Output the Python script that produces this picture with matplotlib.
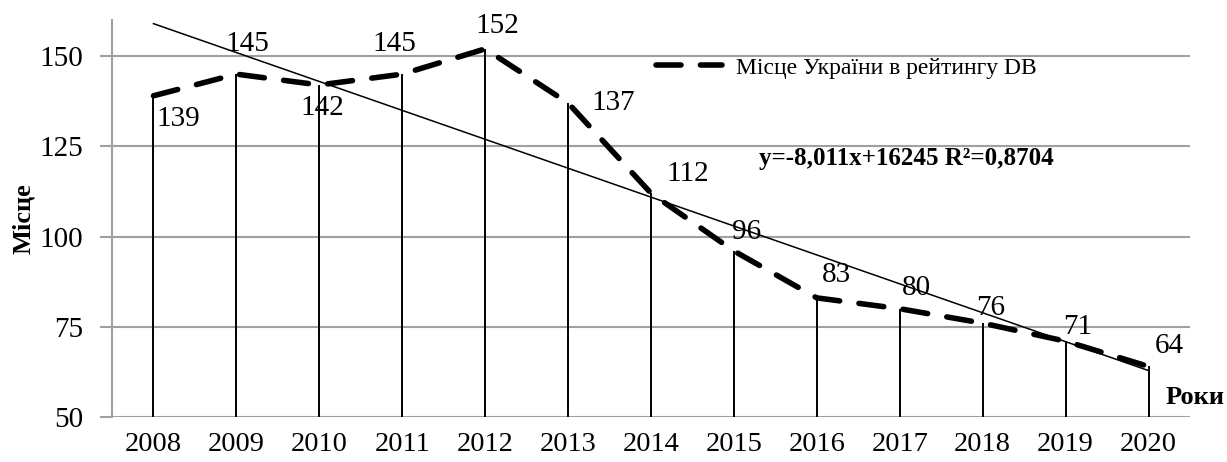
import numpy as np
import matplotlib
matplotlib.use('Agg')
import matplotlib.pyplot as plt

matplotlib.rcParams.update({'font.family': ['Liberation Serif', 'DejaVu Serif'], 'font.size': 21})

# data
years = np.arange(2008, 2021)
places = [139, 145, 142, 145, 152, 137, 112, 96, 83, 80, 76, 71, 64]
# label offsets (pixels) relative to each point
label_dx = [25, 11, 3, -8, 12, 45, 37, 13, 20, 17, 8, 12, 21]
label_dy = [-23, 30, -23, 30, 23, 0, 19, 19, 23, 21, 15, 14, 20]
yticks = [50, 75, 100, 125, 150]
series_label = 'Місце України в рейтингу DB'

fig = plt.figure(figsize=(12.27, 4.62), dpi=100)
ax = fig.add_axes([112/1227, 1-417/462, 1078/1227, 397/462])

grid_c = '#a0a0a0'
for t in yticks:
    ax.axhline(t, color=grid_c, lw=1.5, zorder=0)

# stems
ax.vlines(years, 50, places, color='black', lw=1.4, zorder=2)

# linear trend
k, b = np.polyfit(years, places, 1)
ax.plot(years, k*years + b, color='black', lw=1.1, zorder=3)

# main dashed series
line, = ax.plot(years, places, color='black', lw=4, dashes=(4.5, 3.5),
                dash_capstyle='round', label=series_label, zorder=4)

for x, y, dx, dy in zip(years, places, label_dx, label_dy):
    ax.annotate(str(y), (x, y), xytext=(dx, dy), textcoords='offset pixels',
                ha='center', va='center', fontsize=21, zorder=5)

ax.set_xlim(2007.5, 2020.5)
ax.set_ylim(50, 160)
ax.set_xticks(years)
ax.set_yticks(yticks)
ax.tick_params(axis='x', length=0, pad=11, labelsize=20.5)
ax.tick_params(axis='y', length=9, color=grid_c, width=1.5, pad=12, labelsize=21)
for s in ['top', 'right', 'bottom']:
    ax.spines[s].set_visible(False)
ax.spines['left'].set_color(grid_c)
ax.spines['left'].set_linewidth(1.5)

ax.set_ylabel('Місце', fontweight='bold', fontsize=19, labelpad=3)
fig.text(1225/1227, 1-397/462, 'Роки', fontweight='bold', fontsize=19, ha='right', va='center')
fig.text(906/1227, 1-158/462, 'y=-8,011x+16245 R²=0,8704', fontweight='bold', fontsize=18,
         ha='center', va='center')

ax.legend(handles=[line], loc='center', bbox_to_anchor=(846/1227, 1-68/462),
          bbox_transform=fig.transFigure, frameon=False, fontsize=17,
          handlelength=2.8, handletextpad=0.6)

fig.savefig('out.png', dpi=100)
